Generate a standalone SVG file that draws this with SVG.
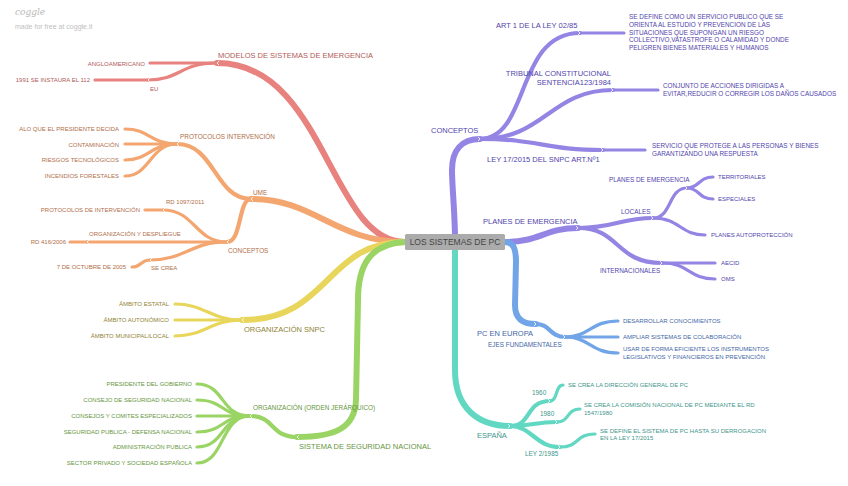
<svg xmlns="http://www.w3.org/2000/svg" width="848" height="486" viewBox="0 0 848 486">
<style>
text{font-family:"Liberation Sans",Arial,sans-serif}
.c path{fill:none;stroke-linecap:round}
.red{stroke:#e8827e}.ora{stroke:#f3a670}.yel{stroke:#e8d65c}.gre{stroke:#9ad464}.pur{stroke:#9485e4}.blu{stroke:#72a5e8}.tea{stroke:#62d8c2}
.w5{stroke-width:6}.w4{stroke-width:4.2}.w3{stroke-width:3.2}
.c path.ch{stroke:#ffffff;stroke-width:0.9;fill:none;stroke-linecap:butt;opacity:0.9}
.tr{fill:#b05a58}.to{fill:#b06e48}.ty{fill:#8f8232}.tg{fill:#66963e}.tp{fill:#5044ac}.tb{fill:#4466a6}.tt{fill:#3e958a}
.l1{font-size:7.5px}.l2{font-size:6.4px}.lf{font-size:6px}.lp{font-size:6.4px}
.e{text-anchor:end}
</style>
<text x="15" y="15" font-size="9" font-style="italic" fill="#b8b8b8" style="font-family:'DejaVu Serif',serif">coggle</text>
<text x="15" y="29" font-size="7" fill="#c0c0c0">made for free at coggle.it</text>

<g id="connectors" class="c">
<!-- red -->
<path class="red w5" d="M405,242 C330,242 325,63 217,63"/>
<path class="red w3" d="M217,63 L150,63"/>
<path class="red w3" d="M217,63 C180,63 180,80 148,80"/>
<path class="red w3" d="M148,80 L95,80"/>
<!-- orange -->
<path class="ora w5" d="M405,242 C335,242 315,199 251,199"/>
<path class="ora w4" d="M251,199 C215,199 215,144 177,144"/>
<path class="ora w3" d="M177,144 C150,144 150,129 125,129"/>
<path class="ora w3" d="M177,144 L125,144"/>
<path class="ora w3" d="M177,144 C150,144 150,160 125,160"/>
<path class="ora w3" d="M177,144 C150,144 150,176 125,176"/>
<path class="ora w4" d="M251,199 C238,199 242,242 227,242"/>
<path class="ora w3" d="M227,242 C195,242 195,210 163,210"/>
<path class="ora w3" d="M163,210 L145,210"/>
<path class="ora w3" d="M227,242 L87,242"/>
<path class="ora w3" d="M87,242 L70,242"/>
<path class="ora w3" d="M227,242 C190,242 185,260 150,260"/>
<path class="ora w3" d="M150,260 C140,260 142,267 132,267"/>
<!-- yellow -->
<path class="yel w5" d="M405,242 C325,242 330,320 242,320"/>
<path class="yel w3" d="M242,320 C210,320 205,304 175,304"/>
<path class="yel w3" d="M242,320 L175,320"/>
<path class="yel w3" d="M242,320 C210,320 205,336 175,336"/>
<!-- green -->
<path class="gre w5" d="M405,242 C370,244 358,265 358,300 L356,400 C355,428 335,437 297,437"/>
<path class="gre w4" d="M297,437 C270,437 275,416 250,416"/>
<path class="gre w3" d="M250,416 C220,416 225,384 197,384"/>
<path class="gre w3" d="M250,416 C220,416 225,400 197,400"/>
<path class="gre w3" d="M250,416 L197,416"/>
<path class="gre w3" d="M250,416 C220,416 225,432 197,432"/>
<path class="gre w3" d="M250,416 C220,416 225,447 197,447"/>
<path class="gre w3" d="M250,416 C220,416 225,463 197,463"/>
<!-- purple -->
<path class="pur w5" d="M455,234 C454,200 452,185 452,170 C452,150 462,139 480,139"/>
<path class="pur w4" d="M480,139 C530,139 515,33 580,33"/>
<path class="pur w3" d="M580,33 L624,33"/>
<path class="pur w4" d="M480,139 C545,139 550,90 613,90"/>
<path class="pur w3" d="M613,90 L658,90"/>
<path class="pur w4" d="M480,139 C540,139 545,150 603,150"/>
<path class="pur w3" d="M603,150 L645,150"/>
<path class="pur w5" d="M505,242 C540,242 545,228 578,228"/>
<path class="pur w4" d="M578,228 C615,228 620,218 653,218"/>
<path class="pur w3" d="M653,218 C672,218 668,188 687,188"/>
<path class="pur w3" d="M687,188 C700,188 698,177 713,177"/>
<path class="pur w3" d="M687,188 C700,188 698,199 713,199"/>
<path class="pur w3" d="M653,218 C680,218 680,235 705,235"/>
<path class="pur w4" d="M578,228 C620,228 615,263 662,263"/>
<path class="pur w3" d="M662,263 L715,263"/>
<path class="pur w3" d="M662,263 C690,263 688,279 715,279"/>
<!-- blue -->
<path class="blu w5" d="M505,242 C514,242 516,250 516,262 L515,305 C515,318 522,324 536,324"/>
<path class="blu w4" d="M536,324 C550,324 550,337 565,337"/>
<path class="blu w3" d="M565,337 C590,337 590,321 618,321"/>
<path class="blu w3" d="M565,337 L618,337"/>
<path class="blu w3" d="M565,337 C590,337 590,353 618,353"/>
<!-- teal -->
<path class="tea w5" d="M455,250 L455,370 C455,408 478,426 510,426"/>
<path class="tea w4" d="M510,426 C532,426 525,401 550,401"/>
<path class="tea w3" d="M550,401 C558,401 555,385 563,385"/>
<path class="tea w4" d="M510,426 C532,426 535,422 557,422"/>
<path class="tea w3" d="M557,422 C570,422 566,409 580,409"/>
<path class="tea w4" d="M510,426 C532,426 535,447 560,447"/>
<path class="tea w3" d="M560,447 C580,447 575,434 595,434"/>
<!-- junction chevrons -->
<path class="ch" d="M219,61 L217,63 L219,65 M150,78 L148,80 L150,82 M253,197 L251,199 L253,201 M179,142 L177,144 L179,146 M229,240 L227,242 L229,244 M165,208 L163,210 L165,212 M89,240 L87,242 L89,244 M152,258 L150,260 L152,262 M244,318 L242,320 L244,322 M299,435 L297,437 L299,439 M252,414 L250,416 L252,418"/>
<path class="ch" d="M478,137 L480,139 L478,141 M578,31 L580,33 L578,35 M611,88 L613,90 L611,92 M601,148 L603,150 L601,152 M576,226 L578,228 L576,230 M651,216 L653,218 L651,220 M685,186 L687,188 L685,190 M660,261 L662,263 L660,265 M534,322 L536,324 L534,326 M563,335 L565,337 L563,339 M508,424 L510,426 L508,428 M548,399 L550,401 L548,403 M555,420 L557,422 L555,424 M558,445 L560,447 L558,449"/>
</g>

<g id="root">
<rect x="405" y="234" width="100" height="16" rx="1.5" fill="#ababab"/>
<text x="455" y="245" font-size="8.5" text-anchor="middle" fill="#454545">LOS SISTEMAS DE PC</text>
</g>

<!-- red -->
<g id="modelos"><text class="tr l1" x="218" y="58">MODELOS DE SISTEMAS DE EMERGENCIA</text></g>
<g id="anglo"><text class="tr lf e" x="145" y="66">ANGLOAMERICANO</text></g>
<g id="eu"><text class="tr lf" x="150" y="91">EU</text></g>
<g id="n112"><text class="tr lf e" x="90" y="82">1991 SE INSTAURA EL 112</text></g>

<!-- orange -->
<g id="ume"><text class="to l2" x="253" y="194.5">UME</text></g>
<g id="protint"><text class="to l2" x="180" y="139">PROTOCOLOS INTERVENCIÓN</text></g>
<g id="alo"><text class="to lf e" x="119" y="131">ALO QUE EL PRESIDENTE DECIDA</text></g>
<g id="contam"><text class="to lf e" x="119" y="147">CONTAMINACIÓN</text></g>
<g id="riesgos"><text class="to lf e" x="119" y="162">RIESGOS TECNOLÓGICOS</text></g>
<g id="incendios"><text class="to lf e" x="119" y="178">INCENDIOS FORESTALES</text></g>
<g id="conceptosume"><text class="to l2" x="228" y="253">CONCEPTOS</text></g>
<g id="rd1097"><text class="to lf" x="166" y="204">RD 1097/2011</text></g>
<g id="protdeint"><text class="to lf e" x="140" y="212">PROTOCOLOS DE INTERVENCIÓN</text></g>
<g id="orgdesp"><text class="to lf" x="89" y="236">ORGANIZACIÓN Y DESPLIEGUE</text></g>
<g id="rd416"><text class="to lf e" x="66" y="244">RD 416/2006</text></g>
<g id="secrea"><text class="to lf" x="151" y="270">SE CREA</text></g>
<g id="oct2005"><text class="to lf e" x="126" y="268.5">7 DE OCTUBRE DE 2005</text></g>

<!-- yellow -->
<g id="orgsnpc"><text class="ty l1" x="244" y="331.5">ORGANIZACIÓN SNPC</text></g>
<g id="estatal"><text class="ty lf e" x="169" y="306">ÁMBITO ESTATAL</text></g>
<g id="autonomico"><text class="ty lf e" x="169" y="322">ÁMBITO AUTONÓMICO</text></g>
<g id="municipal"><text class="ty lf e" x="169" y="338">ÁMBITO MUNICIPAL/LOCAL</text></g>

<!-- green -->
<g id="ssn"><text class="tg l1" x="299" y="449">SISTEMA DE SEGURIDAD NACIONAL</text></g>
<g id="orgjer"><text class="tg l2" x="253" y="410">ORGANIZACIÓN (ORDEN JERÁRQUICO)</text></g>
<g id="presidente"><text class="tg lf e" x="192" y="386">PRESIDENTE DEL GOBIERNO</text></g>
<g id="consejo"><text class="tg lf e" x="192" y="402">CONSEJO DE SEGURIDAD NACIONAL</text></g>
<g id="comites"><text class="tg lf e" x="192" y="418">CONSEJOS Y COMITES ESPECIALIZADOS</text></g>
<g id="segpub"><text class="tg lf e" x="192" y="434">SEGURIDAD PUBLICA - DEFENSA NACIONAL</text></g>
<g id="admin"><text class="tg lf e" x="192" y="449">ADMINISTRACIÓN PUBLICA</text></g>
<g id="sector"><text class="tg lf e" x="192" y="465">SECTOR PRIVADO Y SOCIEDAD ESPAÑOLA</text></g>

<!-- purple -->
<g id="conceptos"><text class="tp l1" x="431" y="133">CONCEPTOS</text></g>
<g id="art1"><text class="tp l1" x="496" y="28">ART 1 DE LA LEY 02/85</text></g>
<g id="sedefine"><text class="tp lp" x="629" y="19">SE DEFINE COMO UN SERVICIO PUBLICO QUE SE<tspan x="629" y="26.8">ORIENTA AL ESTUDIO Y PREVENCION DE LAS</tspan><tspan x="629" y="34.6">SITUACIONES QUE SUPONGAN UN RIESGO</tspan><tspan x="629" y="42.4">COLLECTIVO,VATASTROFE O CALAMIDAD Y DONDE</tspan><tspan x="629" y="50.2">PELIGREN BIENES MATERIALES Y HUMANOS</tspan></text></g>
<g id="tribunal"><text class="tp l1 e" x="611" y="75.5">TRIBUNAL CONSTITUCIONAL<tspan x="611" y="84.5">SENTENCIA123/1984</tspan></text></g>
<g id="conjunto"><text class="tp lp" x="663" y="88">CONJUNTO DE ACCIONES DIRIGIDAS A<tspan x="663" y="96">EVITAR,REDUCIR O CORREGIR LOS DAÑOS CAUSADOS</tspan></text></g>
<g id="ley17"><text class="tp l1" x="487" y="162">LEY 17/2015 DEL SNPC ART.Nº1</text></g>
<g id="servicio"><text class="tp lp" x="652" y="148">SERVICIO QUE PROTEGE A LAS PERSONAS Y BIENES<tspan x="652" y="156">GARANTIZANDO UNA RESPUESTA</tspan></text></g>
<g id="planes"><text class="tp l1" x="483" y="224">PLANES DE EMERGENCIA</text></g>
<g id="locales"><text class="tp l2" x="621" y="214">LOCALES</text></g>
<g id="planessub"><text class="tp l2" x="609" y="182">PLANES DE EMERGENCIA</text></g>
<g id="territoriales"><text class="tp lf" x="718" y="179">TERRITORIALES</text></g>
<g id="especiales"><text class="tp lf" x="718" y="201">ESPECIALES</text></g>
<g id="autoprot"><text class="tp lf" x="711" y="237">PLANES AUTOPROTECCIÓN</text></g>
<g id="internac"><text class="tp l2" x="600" y="273">INTERNACIONALES</text></g>
<g id="aecid"><text class="tp lf" x="721" y="265">AECID</text></g>
<g id="oms"><text class="tp lf" x="721" y="281">OMS</text></g>

<!-- blue -->
<g id="europa"><text class="tb l1" x="477" y="336">PC EN EUROPA</text></g>
<g id="ejes"><text class="tb l2" x="488" y="347">EJES FUNDAMENTALES</text></g>
<g id="desarrollar"><text class="tb lf" x="623" y="323">DESARROLLAR CONOCIMIENTOS</text></g>
<g id="ampliar"><text class="tb lf" x="623" y="339">AMPLIAR SISTEMAS DE COLABORACIÓN</text></g>
<g id="usar"><text class="tb lf" x="623" y="351">USAR DE FORMA EFICIENTE LOS INSTRUMENTOS<tspan x="623" y="358.5">LEGISLATIVOS Y FINANCIEROS EN PREVENCIÓN</tspan></text></g>

<!-- teal -->
<g id="espana"><text class="tt l1" x="477" y="438">ESPAÑA</text></g>
<g id="y1960"><text class="tt l2" x="532" y="395">1960</text></g>
<g id="direccion"><text class="tt lf" x="568" y="387">SE CREA LA DIRECCIÓN GENERAL DE PC</text></g>
<g id="y1980"><text class="tt l2" x="540" y="416">1980</text></g>
<g id="comision"><text class="tt lf" x="584" y="407">SE CREA LA COMISIÓN NACIONAL DE PC MEDIANTE EL RD<tspan x="584" y="415">1547/1980</tspan></text></g>
<g id="ley2"><text class="tt l2" x="525" y="456">LEY 2/1985</text></g>
<g id="sistema"><text class="tt lf" x="600" y="433">SE DEFINE EL SISTEMA DE PC HASTA SU DERROGACION<tspan x="600" y="440">EN LA LEY 17/2015</tspan></text></g>
</svg>
